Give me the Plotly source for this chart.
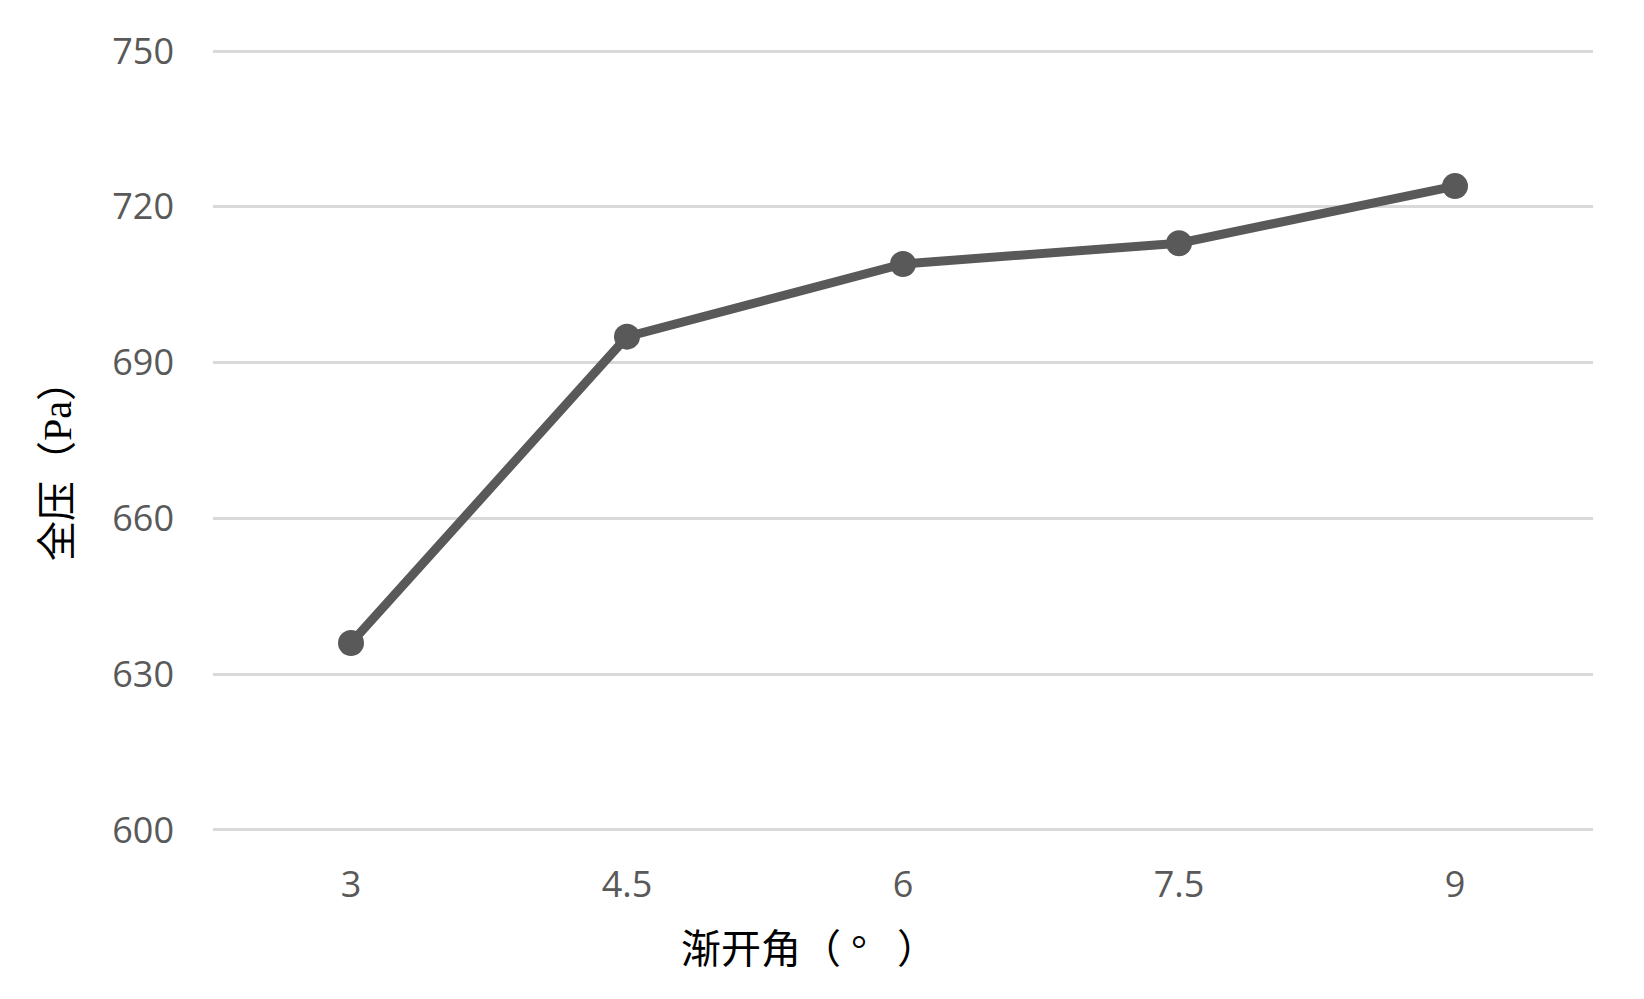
"""Full pressure vs. involute angle line chart."""

import plotly.graph_objects as go

angles = ["3", "4.5", "6", "7.5", "9"]
pressure = [636, 695, 709, 713, 724]
y_ticks = [600, 630, 660, 690, 720, 750]

x_title = "渐开角（ °   ）"
y_title = "全压（Pa）"

LINE_GREY = "#595959"
TITLE_FONT = "Liberation Serif, Noto Sans CJK SC, serif"

fig = go.Figure()
fig.add_trace(go.Scatter(
    x=angles,
    y=pressure,
    mode="lines+markers",
    line=dict(color=LINE_GREY, width=9),
    marker=dict(size=26, color=LINE_GREY),
    showlegend=False,
    hoverinfo="x+y",
    cliponaxis=False,
))

fig.update_layout(
    width=1636,
    height=991,
    margin=dict(l=205, r=51, t=41, b=167),
    paper_bgcolor="white",
    plot_bgcolor="white",
    font=dict(family="Open Sans, sans-serif", color=LINE_GREY, size=36),
    xaxis=dict(
        type="category",
        range=[-0.5, 4.5],
        showgrid=False,
        showline=False,
        zeroline=False,
        ticklabelstandoff=28,
        tickfont=dict(size=36, color=LINE_GREY),
    ),
    yaxis=dict(
        range=[599.6, 750.4],
        tickvals=y_ticks,
        showgrid=True,
        gridcolor="#d9d9d9",
        gridwidth=2.5,
        showline=False,
        zeroline=False,
        ticklabelstandoff=38,
        tickfont=dict(size=36, color=LINE_GREY),
    ),
    annotations=[
        dict(
            text=x_title, xref="paper", yref="paper",
            x=0.432, y=-0.15, xanchor="center", yanchor="middle",
            showarrow=False, font=dict(family=TITLE_FONT, size=40, color="black"),
        ),
        dict(
            text=y_title, xref="paper", yref="paper",
            x=-0.1123, y=0.474, xanchor="center", yanchor="middle",
            textangle=-90, showarrow=False,
            font=dict(family=TITLE_FONT, size=40, color="black"),
        ),
    ],
)

fig.write_html("out.html")
